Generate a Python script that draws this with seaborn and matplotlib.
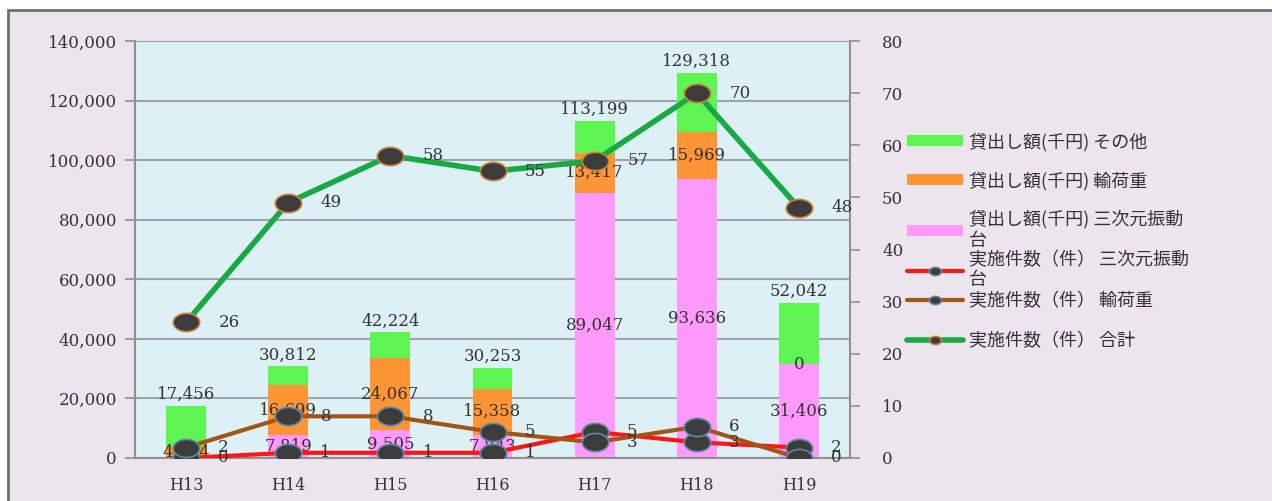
import numpy as np
import matplotlib
matplotlib.use("Agg")
import matplotlib.pyplot as plt
from matplotlib.path import Path
from matplotlib.transforms import Affine2D
from matplotlib.patches import Rectangle
import seaborn as sns

# ---- data ----
years = ["H13", "H14", "H15", "H16", "H17", "H18", "H19"]
amount_shindo = [0, 7819, 9505, 7843, 89047, 93636, 31406]      # 貸出し額 三次元振動台
amount_kaju = [4004, 16699, 24067, 15358, 13417, 15969, 0]       # 貸出し額 輸荷重
amount_total = [17456, 30812, 42224, 30253, 113199, 129318, 52042]  # top of stack (その他 label)
count_shindo = [0, 1, 1, 1, 5, 3, 2]     # 実施件数 三次元振動台
count_kaju = [2, 8, 8, 5, 3, 6, 0]       # 実施件数 輸荷重
count_total = [26, 49, 58, 55, 57, 70, 48]  # 実施件数 合計

lbl_other = "貸出し額(千円) その他"
lbl_kaju = "貸出し額(千円) 輸荷重"
lbl_shindo = "貸出し額(千円) 三次元振動\n台"
lbl_c_shindo = "実施件数（件） 三次元振動\n台"
lbl_c_kaju = "実施件数（件） 輸荷重"
lbl_c_total = "実施件数（件） 合計"

sns.set_theme(style="white")
plt.rcParams["font.family"] = ["DejaVu Serif"]

W, H = 1272, 501
fig = plt.figure(figsize=(W / 100, H / 100), dpi=100)
fig.patch.set_facecolor("white")
fig.add_artist(Rectangle((8 / W, -0.01), 1.0, (H - 10) / H + 0.01, transform=fig.transFigure,
                         facecolor="#ece5ee", edgecolor="#707070", linewidth=2, zorder=-10))

ax = fig.add_axes([135 / W, 43 / H, 715 / W, 417 / H])
ax.set_facecolor("#dcf0f5")

idx = np.arange(len(years))
stack_ok = np.array(amount_shindo) + np.array(amount_kaju)

c_green = "#5ef552"
c_orange = "#fd9535"
c_pink = "#ff99fb"

bar_kw = dict(width=0.39, ax=ax, saturation=1, native_scale=True, edgecolor="none", linewidth=0)
sns.barplot(x=idx, y=amount_total, color=c_green, label=lbl_other, **bar_kw)
sns.barplot(x=idx, y=stack_ok, color=c_orange, label=lbl_kaju, **bar_kw)
sns.barplot(x=idx, y=amount_shindo, color=c_pink, label=lbl_shindo, **bar_kw)
if ax.get_legend() is not None:
    ax.get_legend().remove()

ax.set_xlim(-0.5, len(years) - 0.5)
ax.set_ylim(0, 140000)
ax.set_yticks(np.arange(0, 140001, 20000))
ax.set_yticklabels([f"{v:,}" for v in range(0, 140001, 20000)])
ax.set_xticks(idx)
ax.set_xticklabels(years)
ax.set_xticks(np.arange(-0.5, len(years)), minor=True)
ax.tick_params(axis="x", which="major", length=0, pad=14, labelsize=11.5, colors="#333333")
ax.tick_params(axis="x", which="minor", length=7, width=1.2, color="#909090", direction="out")
ax.tick_params(axis="y", length=7, width=1.2, color="#909090", direction="out",
               labelsize=12, labelcolor="#333333", pad=6, left=True)
ax.grid(axis="y", color="#a0a4a8", linewidth=1.5)
ax.set_axisbelow(True)
ax.set_xlabel("")
for s in ["left", "bottom", "right"]:
    ax.spines[s].set_visible(True)
    ax.spines[s].set_color("#909090")
    ax.spines[s].set_linewidth(1.5)
ax.spines["top"].set_visible(False)

# bar labels
for i in idx:
    ax.annotate(f"{amount_total[i]:,}", (i, amount_total[i]), xytext=(0, 2), textcoords="offset points",
                ha="center", va="bottom", fontsize=12, color="#333333")
    ax.text(i, amount_shindo[i] + amount_kaju[i] / 2, f"{amount_kaju[i]:,}",
            ha="center", va="center", fontsize=12, color="#333333")
    if amount_shindo[i] > 0:
        ax.text(i, amount_shindo[i] / 2, f"{amount_shindo[i]:,}",
                ha="center", va="center", fontsize=12, color="#333333")

# lines on secondary axis
ax2 = ax.twinx()
ellipse = Path(Affine2D().scale(1.45, 1.0).transform(Path.unit_circle().vertices),
               Path.unit_circle().codes)

line_kw = dict(ax=ax2, marker=ellipse, markersize=19, markerfacecolor="#3c3c3c",
               markeredgewidth=1.2, legend=False)
sns.lineplot(x=idx, y=count_shindo, color="#ff1414", linewidth=3, markeredgecolor="#5f8aa0",
             label=lbl_c_shindo, **line_kw)
sns.lineplot(x=idx, y=count_kaju, color="#a35518", linewidth=3, markeredgecolor="#5f8aa0",
             label=lbl_c_kaju, **line_kw)
sns.lineplot(x=idx, y=count_total, color="#1aa844", linewidth=4, markeredgecolor="#c8823c",
             label=lbl_c_total, **line_kw)

ax2.set_ylim(0, 80)
ax2.set_yticks(np.arange(0, 81, 10))
ax2.tick_params(axis="y", length=7, width=1.2, color="#909090", direction="out",
                labelsize=12, labelcolor="#333333", pad=16, right=True)
ax2.grid(False)
for s in ax2.spines.values():
    s.set_visible(False)

for vals, dx in [(count_shindo, 27), (count_kaju, 27), (count_total, 31)]:
    for i, v in zip(idx, vals):
        ax2.annotate(str(v), (i, v), xytext=(dx, 0), textcoords="offset points",
                     ha="center", va="center", fontsize=12, color="#333333")

# legend: one entry per legend so each row sits where the reference has it
h1, l1 = ax.get_legend_handles_labels()
h2, l2 = ax2.get_legend_handles_labels()
if ax2.get_legend() is not None:
    ax2.get_legend().remove()
row_y = [142, 181, 230, 270, 301, 341]
for hnd, lab, y in zip(h1 + h2, l1 + l2, row_y):
    lg = fig.legend([hnd], [lab], loc="center left", bbox_to_anchor=(907 / W, (H - y) / H),
                    frameon=False, borderpad=0, borderaxespad=0,
                    handlelength=3.1, handleheight=0.55, handletextpad=0.35,
                    markerscale=0.45,
                    prop={"family": ["Noto Sans CJK JP", "DejaVu Sans"], "size": 13})
    for t in lg.get_texts():
        t.set_color("#333333")

fig.savefig("out.png", dpi=100, facecolor=fig.get_facecolor())
